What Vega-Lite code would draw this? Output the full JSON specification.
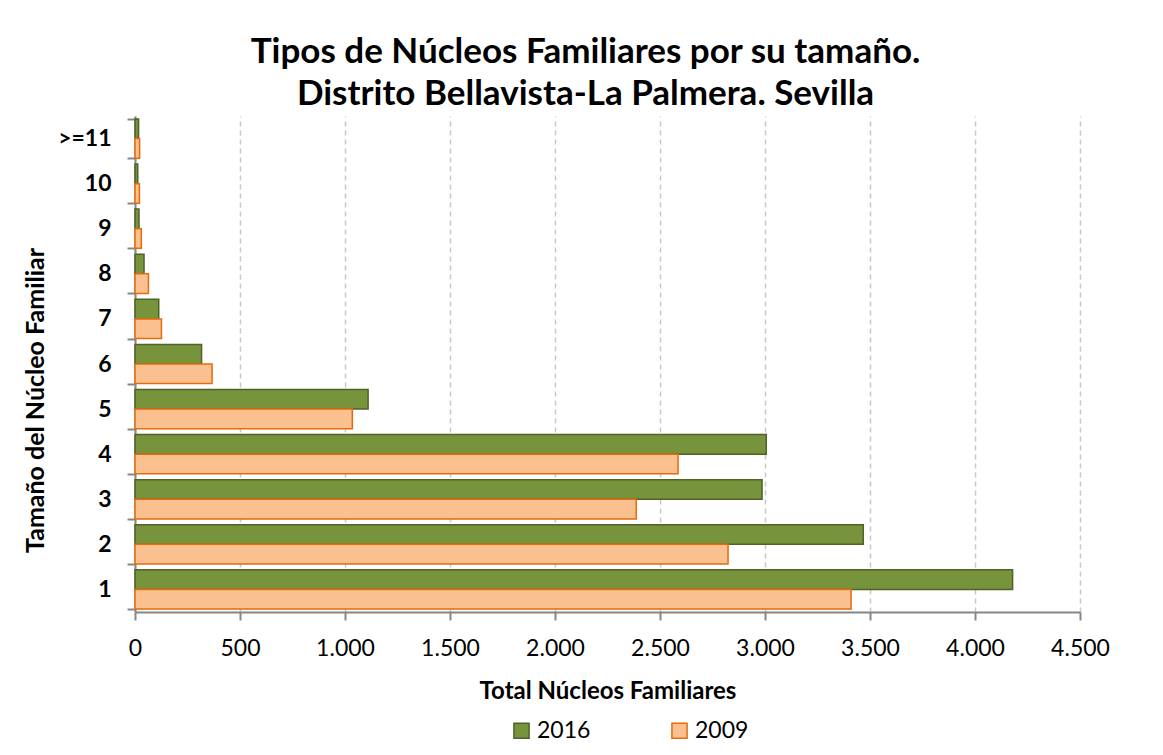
{
  "$schema": "https://vega.github.io/schema/vega-lite/v6.json",
  "width": 945,
  "height": 496,
  "autosize": {"type": "none"},
  "padding": {"left": 135, "top": 116, "right": 83, "bottom": 143},
  "background": "white",
  "config": {
    "font": "Lato",
    "locale": {"number": {"decimal": ",", "thousands": ".", "grouping": [3], "currency": ["", " €"]}},
    "view": {"stroke": null}
  },
  "title": {
    "text": ["Tipos de Núcleos Familiares por su tamaño.", "Distrito Bellavista-La Palmera. Sevilla"],
    "fontSize": 35,
    "fontWeight": "bold",
    "font": "Lato",
    "color": "#000000",
    "lineHeight": 42,
    "anchor": "middle",
    "dx": -22,
    "offset": -7
  },
  "data": {
    "values": [
      {"size": "1", "year": "2016", "value": 4179},
      {"size": "1", "year": "2009", "value": 3410},
      {"size": "2", "year": "2016", "value": 3468},
      {"size": "2", "year": "2009", "value": 2824},
      {"size": "3", "year": "2016", "value": 2986},
      {"size": "3", "year": "2009", "value": 2387},
      {"size": "4", "year": "2016", "value": 3006},
      {"size": "4", "year": "2009", "value": 2586},
      {"size": "5", "year": "2016", "value": 1110},
      {"size": "5", "year": "2009", "value": 1035},
      {"size": "6", "year": "2016", "value": 317},
      {"size": "6", "year": "2009", "value": 367},
      {"size": "7", "year": "2016", "value": 113},
      {"size": "7", "year": "2009", "value": 126},
      {"size": "8", "year": "2016", "value": 43},
      {"size": "8", "year": "2009", "value": 64},
      {"size": "9", "year": "2016", "value": 19},
      {"size": "9", "year": "2009", "value": 30},
      {"size": "10", "year": "2016", "value": 13},
      {"size": "10", "year": "2009", "value": 21},
      {"size": ">=11", "year": "2016", "value": 17},
      {"size": ">=11", "year": "2009", "value": 22}
    ]
  },
  "mark": {"type": "bar", "strokeWidth": 1.5},
  "encoding": {
    "y": {
      "field": "size",
      "type": "nominal",
      "sort": [">=11", "10", "9", "8", "7", "6", "5", "4", "3", "2", "1"],
      "scale": {"paddingInner": 0.13, "paddingOuter": 0.065},
      "axis": {
        "title": "Tamaño del Núcleo Familiar",
        "titleFontSize": 25,
        "titleFontWeight": "bold",
        "titleColor": "#000000",
        "titlePadding": 9,
        "titleY": 284,
        "labelFontSize": 23,
        "labelFontWeight": "bold",
        "labelColor": "#000000",
        "labelPadding": 16,
        "tickBand": "extent",
        "tickSize": 8,
        "tickColor": "#868686",
        "tickWidth": 2,
        "domainColor": "#868686",
        "domainWidth": 2,
        "grid": false
      }
    },
    "yOffset": {"field": "year", "type": "nominal", "sort": ["2016", "2009"]},
    "x": {
      "field": "value",
      "type": "quantitative",
      "scale": {"domain": [0, 4500], "nice": false},
      "axis": {
        "title": "Total Núcleos Familiares",
        "titleFontSize": 24,
        "titleFontWeight": "bold",
        "titleColor": "#000000",
        "titlePadding": 19,
        "values": [0, 500, 1000, 1500, 2000, 2500, 3000, 3500, 4000, 4500],
        "format": ",d",
        "labelFontSize": 23,
        "labelColor": "#000000",
        "labelPadding": 17,
        "labelFlush": false,
        "labelOverlap": false,
        "tickSize": 8,
        "tickColor": "#868686",
        "tickWidth": 2,
        "domainColor": "#868686",
        "domainWidth": 2,
        "grid": true,
        "gridColor": "#c8c8c8",
        "gridWidth": 1.5,
        "gridDash": [5, 4]
      }
    },
    "color": {
      "field": "year",
      "type": "nominal",
      "sort": ["2016", "2009"],
      "scale": {"domain": ["2016", "2009"], "range": ["#77933c", "#fac090"]},
      "legend": {
        "title": null,
        "orient": "none",
        "direction": "horizontal",
        "legendX": 375,
        "legendY": 603,
        "symbolType": "square",
        "symbolSize": 230,
        "symbolStrokeWidth": 1.5,
        "labelFontSize": 23,
        "labelColor": "#000000",
        "labelOffset": 4,
        "columnPadding": 77
      }
    },
    "stroke": {
      "field": "year",
      "type": "nominal",
      "scale": {"domain": ["2016", "2009"], "range": ["#4f6228", "#e46c0a"]},
      "legend": null
    }
  }
}
